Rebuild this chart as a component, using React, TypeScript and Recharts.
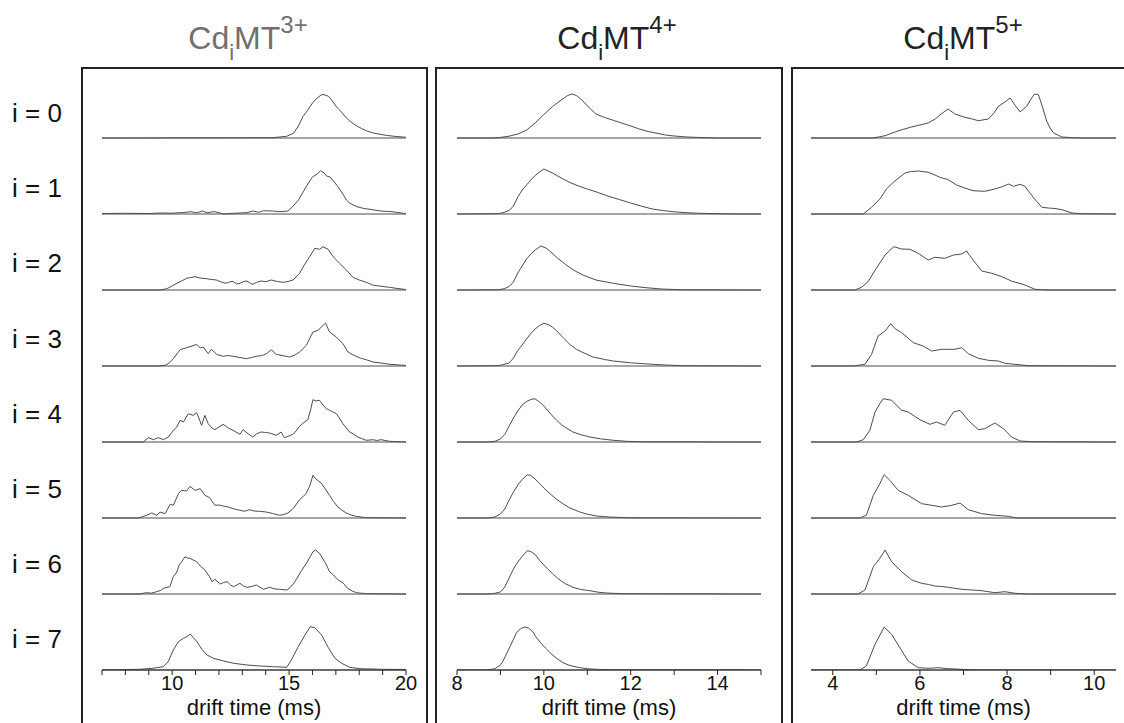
import React from 'react';
import { LineChart, Line, XAxis, YAxis, ReferenceLine } from 'recharts';

// ---------- data: drift time (ms) vs. relative intensity (a.u.) ----------
const ROW_GAP = 76; // vertical offset between stacked traces (a.u.)
const rowLabels = ['i = 0', 'i = 1', 'i = 2', 'i = 3', 'i = 4', 'i = 5', 'i = 6', 'i = 7'];

// Cd_iMT 3+
const cd3_i0 = [[7,0],[14.3,0.3],[14.9,1.7],[15.2,5],[15.4,12],[15.6,21.7],[15.8,28],[16.0,35],[16.2,40],[16.4,43.5],[16.55,43],[16.7,41.5],[16.85,37],[17.0,32],[17.2,27],[17.45,20],[17.7,15],[17.9,12],[18.1,9.5],[18.3,7.3],[18.6,5],[18.9,3.7],[19.2,2.5],[19.5,1.7],[20,0.7]];
const cd3_i1 = [[7,0.5],[8,0.7],[9,0.5],[9.5,1],[10,0.8],[10.5,1.5],[10.8,2.3],[11.05,1.3],[11.3,3],[11.5,1.2],[11.8,2.5],[12.2,0],[12.6,0.7],[13.2,1.3],[13.45,3],[13.7,1.7],[13.9,3.3],[14.3,3],[14.6,2.3],[14.95,3],[15.15,7.3],[15.4,14],[15.6,22],[15.8,30],[16.0,37],[16.2,40],[16.35,43.3],[16.5,41],[16.6,38],[16.75,37],[16.9,33],[17.1,27],[17.3,20],[17.45,14],[17.6,10.7],[17.9,7.3],[18.2,5.5],[18.45,4.7],[18.9,3],[19.4,2.3],[19.9,0.7],[20,0.5]];
const cd3_i2 = [[7,0],[9.5,0],[9.77,1.3],[10.0,4],[10.2,6.7],[10.4,9],[10.62,11.7],[10.8,12.5],[10.98,13.3],[11.2,12],[11.47,11.3],[11.7,10.5],[11.9,10],[12.1,8],[12.3,6.7],[12.45,8],[12.6,8.7],[12.75,6],[12.9,6.7],[13.05,8.5],[13.2,9],[13.35,6.5],[13.45,5.7],[13.6,7.5],[13.8,9],[14.0,8.3],[14.24,10],[14.5,8.5],[14.74,7.7],[14.95,8.5],[15.17,10],[15.45,16.7],[15.65,25],[15.88,33.3],[16.1,41.7],[16.3,40.7],[16.45,43.3],[16.67,40.7],[16.8,36],[16.95,31.7],[17.16,26.7],[17.45,20],[17.73,12.7],[18.0,10],[18.3,7.7],[18.57,5],[18.86,4],[19.1,3.2],[19.3,2.7],[19.57,1.7],[19.93,0.7],[20,0.5]];
const cd3_i3 = [[7,0],[9.4,0],[9.7,0.7],[9.9,3.5],[10.05,7.3],[10.2,12],[10.34,16.3],[10.5,17.5],[10.62,18.3],[10.85,20],[11.05,21.7],[11.2,18],[11.33,19],[11.54,12.3],[11.68,16.7],[11.9,11.7],[12.18,9.7],[12.4,10.5],[12.6,9.7],[12.9,8.5],[13.17,7.3],[13.4,8.5],[13.6,9.7],[13.85,10.5],[14.03,12.3],[14.24,16.3],[14.45,11.7],[14.7,10.5],[15.02,9],[15.25,11],[15.45,14],[15.74,20.7],[16.02,34],[16.24,35.7],[16.38,39],[16.56,43],[16.73,34],[16.9,31],[17.02,29],[17.3,22.3],[17.52,14],[17.7,11.5],[17.87,9.7],[18.1,7.5],[18.3,6.3],[18.58,4],[18.93,3],[19.3,1.7],[19.6,1.2],[19.93,0.7],[20,0.5]];
const cd3_i4 = [[7,0],[8.77,0],[8.99,4.3],[9.2,2.3],[9.4,4.3],[9.63,2.3],[9.84,5],[10.05,11.7],[10.2,15],[10.34,21.7],[10.48,20],[10.69,28.3],[10.9,26.7],[11.05,29.3],[11.26,16.7],[11.4,26.7],[11.54,18.3],[11.7,14],[11.83,12.3],[12.0,15],[12.18,17.7],[12.4,14],[12.6,11.7],[12.9,7.7],[13.03,12.3],[13.24,8.3],[13.45,5],[13.6,8],[13.8,10],[14.0,9.5],[14.17,9],[14.45,6.7],[14.66,10],[14.8,4.3],[15.0,6],[15.16,7.7],[15.3,11],[15.45,15.7],[15.6,19],[15.8,22.3],[15.92,32],[16.02,42.3],[16.15,41],[16.3,41.7],[16.45,37],[16.59,33.3],[16.8,31],[17.02,28.3],[17.15,24],[17.3,18.3],[17.45,14],[17.59,10],[17.75,8],[17.94,5],[18.1,3.5],[18.3,1.7],[18.58,2.3],[18.75,1.5],[18.93,2.3],[19.3,0.7],[19.93,0],[20,0]];
const cd3_i5 = [[7,0],[8.55,0],[8.91,2.7],[9.13,5],[9.34,2.7],[9.48,6],[9.7,4.3],[9.91,13.7],[10.05,12.7],[10.27,24.3],[10.4,27.7],[10.62,27],[10.76,31.7],[10.98,27.7],[11.2,29.3],[11.4,22.7],[11.6,20.3],[11.83,12.7],[12.0,13],[12.18,12],[12.4,11],[12.6,9.3],[12.85,8],[13.1,6.7],[13.3,8.3],[13.5,7],[13.73,6.7],[14.02,6],[14.3,4.5],[14.6,2.7],[14.78,3.5],[14.95,5],[15.17,9.3],[15.45,18.3],[15.73,24.3],[15.9,33],[16.02,42.7],[16.1,40],[16.19,38.3],[16.37,35],[16.55,29],[16.73,22.7],[16.9,16.5],[17.09,11],[17.25,8],[17.44,5],[17.65,3],[17.87,1.7],[18.3,0.3],[20,0]];
const cd3_i6 = [[7,0],[8.6,0],[8.9,1.3],[9.1,0.8],[9.33,2.3],[9.5,3.5],[9.62,5.7],[9.9,7.3],[10.05,17.3],[10.2,22],[10.3,29],[10.41,32.3],[10.55,37.3],[10.65,36],[10.76,35.7],[10.9,34],[11.05,32.3],[11.2,28],[11.4,24],[11.6,17.3],[11.7,12.3],[11.83,14.7],[12.06,10],[12.2,11.5],[12.35,12.3],[12.5,9],[12.63,7.3],[12.9,10.7],[13.05,8],[13.2,6.7],[13.4,7.5],[13.6,9],[13.9,4.7],[14.17,6.7],[14.4,5],[14.6,4.7],[14.9,4],[15.05,6.5],[15.2,10.7],[15.35,16],[15.5,22.3],[15.75,31],[16.02,42.3],[16.14,44],[16.3,40.7],[16.52,32.3],[16.6,29],[16.73,22.3],[16.9,19],[17.1,14],[17.3,11.3],[17.5,5.7],[17.7,3],[17.88,1.3],[18.3,0.3],[20,0]];
const cd3_i7 = [[7,0],[8.6,0.7],[9.18,1.7],[9.62,3.3],[9.83,8.3],[10.05,20],[10.27,28.3],[10.48,31.7],[10.63,33.3],[10.77,36],[10.89,32.7],[11.06,28.3],[11.27,20.7],[11.49,15],[11.77,11.7],[12.2,9],[12.63,6.7],[13.2,5],[13.77,4],[14.34,3.3],[14.9,2.7],[15.1,10],[15.39,23.3],[15.68,35],[15.9,43.3],[16.1,42.3],[16.39,35],[16.67,22.7],[16.96,11.7],[17.25,6.7],[17.6,2.7],[18.03,1.3],[19,0.7],[20,0.5]];

// Cd_iMT 4+
const cd4_i0 = [[8,0],[8.8,0],[9.0,0.6],[9.2,1.8],[9.4,4],[9.6,7.8],[9.8,15],[10.0,23.5],[10.2,31.5],[10.4,38],[10.55,42.5],[10.65,44],[10.75,42.5],[10.9,37],[11.05,30],[11.2,24],[11.4,20.5],[11.6,17.7],[11.8,14.8],[12.0,12],[12.2,9],[12.4,6.5],[12.6,4.8],[12.8,3],[13.0,2],[13.3,1],[13.6,0.5],[14.0,0],[15,0]];
const cd4_i1 = [[8,0],[8.9,0.3],[9.0,0.7],[9.1,1.8],[9.2,3.5],[9.3,8],[9.4,17],[9.5,24],[9.6,29],[9.7,34],[9.8,38.5],[9.9,42],[10.0,45],[10.2,41],[10.4,36],[10.6,31.5],[10.8,28],[11.0,25],[11.25,21.5],[11.5,17.5],[11.75,14.3],[12.0,11],[12.25,7.8],[12.5,5],[12.75,3.4],[13.0,2.2],[13.25,1.4],[13.5,0.8],[14,0.3],[14.5,0],[15,0]];
const cd4_i2 = [[8,0],[8.9,0.2],[9.0,0.5],[9.1,1.5],[9.2,3.5],[9.3,8],[9.4,17],[9.5,24],[9.6,31],[9.7,36],[9.8,40],[9.93,44],[10.05,42],[10.15,38.5],[10.3,32.5],[10.5,25.5],[10.7,19.5],[10.9,15],[11.2,10],[11.6,6.7],[12.0,4],[12.35,2.3],[12.7,1],[13.2,0.2],[15,0]];
const cd4_i3 = [[8,0],[8.9,0.3],[9.0,0.7],[9.2,3],[9.3,8],[9.4,15.5],[9.5,21],[9.6,27],[9.7,32.5],[9.8,37],[9.9,40.5],[10.0,42.7],[10.1,41.5],[10.2,38.8],[10.3,35],[10.45,28],[10.6,21.5],[10.75,16.7],[10.9,13.5],[11.13,9],[11.4,6.5],[11.6,5],[12.0,3.2],[12.4,2],[12.8,1],[13.2,0.3],[15,0]];
const cd4_i4 = [[8,0],[8.7,0],[8.87,0.7],[9.0,3],[9.1,7.5],[9.2,16],[9.3,24],[9.4,31],[9.5,37],[9.6,40.5],[9.7,42.5],[9.79,43.3],[9.9,40],[10.0,36],[10.1,31],[10.2,26],[10.3,21.5],[10.4,17.5],[10.5,14.5],[10.67,10],[10.85,7.3],[11.06,5],[11.3,3.2],[11.6,1.7],[11.9,0.7],[12.3,0.2],[15,0]];
const cd4_i5 = [[8,0],[8.7,0],[8.87,1],[9.0,4],[9.1,9],[9.2,18],[9.3,26],[9.4,33],[9.5,38.5],[9.62,43.3],[9.7,42.5],[9.8,39],[9.9,34.5],[10.0,30],[10.14,24.3],[10.3,18.5],[10.44,14.3],[10.6,10],[10.83,6],[11.0,3.8],[11.21,2],[11.5,1],[12,0.2],[15,0]];
const cd4_i6 = [[8,0],[8.7,0],[8.85,0.5],[9.0,2],[9.1,7],[9.2,16],[9.3,25],[9.4,32],[9.5,37.5],[9.62,43.3],[9.7,42.5],[9.8,39.5],[9.91,33.3],[10.0,29],[10.1,24.5],[10.2,20.5],[10.29,16.7],[10.4,13],[10.5,10.2],[10.67,6.7],[10.85,4.5],[11.06,3.3],[11.25,1.8],[11.44,1],[11.8,0.3],[15,0]];
const cd4_i7 = [[8,0],[8.7,0],[8.87,1.3],[9.0,5],[9.06,9],[9.15,17],[9.26,27],[9.37,37.3],[9.47,41.5],[9.56,43],[9.65,42],[9.75,38],[9.83,32.3],[9.95,26],[10.05,21.5],[10.14,17.3],[10.3,11.5],[10.44,7.3],[10.6,4.5],[10.83,2.3],[11.0,1.3],[11.21,0.7],[11.5,0.2],[15,0]];

// Cd_iMT 5+
const cd5_i0 = [[3.5,0],[4.89,0],[5.05,1],[5.2,2.3],[5.43,6],[5.6,8.5],[5.81,11],[6.0,13],[6.19,15],[6.35,19],[6.5,24.5],[6.65,29],[6.8,24],[7.03,20.7],[7.2,19],[7.34,17.3],[7.57,19],[7.7,25],[7.8,31.7],[7.95,36],[8.07,40],[8.18,33],[8.3,26],[8.45,31.7],[8.55,39],[8.63,44],[8.72,43.3],[8.82,30],[8.91,16.7],[9.0,9],[9.07,5],[9.26,1],[9.5,0.3],[9.72,0],[10.5,0]];
const cd5_i1 = [[3.5,0],[4.7,0],[4.89,6.7],[5.08,15],[5.23,25],[5.43,33.3],[5.66,41],[5.8,42.5],[5.96,43],[6.19,41.7],[6.32,39.5],[6.46,36.7],[6.65,34.3],[6.84,29],[7.03,26],[7.22,23.3],[7.49,22.7],[7.72,25],[7.9,27.5],[8.03,30],[8.15,27.7],[8.3,29.7],[8.41,27.7],[8.6,16.7],[8.8,6.7],[8.95,6],[9.1,5.5],[9.26,4.3],[9.49,1],[9.72,0.3],[10.5,0]];
const cd5_i2 = [[3.5,0],[4.51,0],[4.66,2.7],[4.81,8.3],[5.0,21.7],[5.2,35],[5.4,43.3],[5.58,41],[5.77,40.7],[5.96,36.7],[6.19,30],[6.34,32.7],[6.57,31.7],[6.77,35],[6.96,36],[7.07,39],[7.22,30],[7.42,19],[7.65,16.7],[7.88,13.3],[8.1,9],[8.41,5],[8.64,0.7],[8.95,0],[10.5,0]];
const cd5_i3 = [[3.5,0],[4.47,0],[4.74,1.7],[4.89,11.7],[5.04,30],[5.2,35],[5.33,42.3],[5.43,37.3],[5.58,33.3],[5.85,23.3],[6.07,20],[6.27,15],[6.5,16.7],[6.8,16.7],[6.96,18.3],[7.11,12.3],[7.34,7.7],[7.57,5.7],[7.8,5],[7.95,2.7],[8.18,1.7],[8.49,0.3],[10.5,0]];
const cd5_i4 = [[3.5,0],[4.54,0],[4.7,2.3],[4.85,11.7],[4.97,30],[5.08,38.3],[5.16,43.3],[5.35,41.7],[5.58,31.7],[5.73,30],[6.0,22.3],[6.23,17.7],[6.38,20],[6.57,16.7],[6.77,30],[6.92,31.7],[7.11,21.7],[7.34,12.3],[7.49,13.3],[7.72,19],[7.92,13.3],[8.1,5],[8.3,1],[8.57,0.3],[10.5,0]];
const cd5_i5 = [[3.5,0],[4.62,0],[4.77,2.7],[4.93,22.7],[5.08,34.3],[5.18,43.3],[5.31,37.7],[5.5,27.7],[5.73,22.7],[6.04,14.3],[6.27,12.7],[6.5,11],[6.73,12.7],[6.92,15],[7.11,8.3],[7.42,4.3],[7.72,2.7],[8.03,1.7],[8.22,0],[10.5,0]];
const cd5_i6 = [[3.5,0],[4.58,0],[4.74,4],[4.93,27.3],[5.08,35.7],[5.2,44],[5.35,32.3],[5.58,22.3],[5.81,14],[6.04,10.7],[6.2,9.5],[6.34,8],[6.5,7.5],[6.65,6.7],[6.96,4.7],[7.42,3.3],[7.72,1.3],[7.95,2.3],[8.18,0.7],[8.5,0],[10.5,0]];
const cd5_i7 = [[3.5,0],[4.62,0],[4.77,4],[4.97,25.7],[5.18,43],[5.35,35.7],[5.54,22.3],[5.73,9],[5.96,2.3],[6.19,1.7],[6.42,2.3],[6.65,1.3],[6.96,0.7],[7.3,0],[10.5,0]];

const cd3Rows = [cd3_i0, cd3_i1, cd3_i2, cd3_i3, cd3_i4, cd3_i5, cd3_i6, cd3_i7];
const cd4Rows = [cd4_i0, cd4_i1, cd4_i2, cd4_i3, cd4_i4, cd4_i5, cd4_i6, cd4_i7];
const cd5Rows = [cd5_i0, cd5_i1, cd5_i2, cd5_i3, cd5_i4, cd5_i5, cd5_i6, cd5_i7];

const cd3Ticks = [7, 8, 9, 10, 11, 12, 13, 14, 15, 16, 17, 18, 19, 20];
const cd3Labeled = [10, 15, 20];
const cd4Ticks = [8, 9, 10, 11, 12, 13, 14, 15];
const cd4Labeled = [8, 10, 12, 14];
const cd5Ticks = [4, 5, 6, 7, 8, 9, 10];
const cd5Labeled = [4, 6, 8, 10];

const titleSup = ['3+', '4+', '5+'];
const xLabel = 'drift time (ms)';

// ---------- rendering ----------
const FONT = '"Liberation Sans", Arial, Helvetica, sans-serif';
const TRACE = '#4d4d4d';

type PanelProps = {
  left: number;
  width: number;
  domain: [number, number];
  ticks: number[];
  labeled: number[];
  rows: number[][][];
};

function makeTick(labeled: number[]) {
  return (props: any) => {
    const { x, y, payload } = props;
    const v = payload.value;
    if (!labeled.includes(v)) return <g />;
    return (
      <text x={x} y={y + 13} textAnchor="middle" fontSize={20} fill="#111" fontFamily={FONT}>
        {String(v)}
      </text>
    );
  };
}

function Panel({ left, width, domain, ticks, labeled, rows }: PanelProps) {
  return (
    <div style={{ position: 'absolute', left, top: 70 }}>
      <LineChart width={width} height={650} margin={{ top: 0, right: 20, bottom: 0, left: 20 }}>
        <XAxis
          type="number"
          dataKey="x"
          domain={domain}
          ticks={ticks}
          interval={0}
          allowDataOverflow
          height={50}
          tickSize={5}
          tickLine={{ stroke: '#222' }}
          axisLine={{ stroke: '#333' }}
          tick={makeTick(labeled)}
          label={{ value: xLabel, position: 'insideBottom', offset: 5, fontSize: 22, fill: '#111' }}
        />
        <YAxis type="number" domain={[0, 600]} hide allowDataOverflow />
        {rows.map((_, i) => (
          <ReferenceLine key={'b' + i} y={(7 - i) * ROW_GAP} stroke={TRACE} strokeWidth={1} />
        ))}
        {rows.map((r, i) => (
          <Line
            key={'l' + i}
            data={r.map(([x, h]) => ({ x, y: (7 - i) * ROW_GAP + h }))}
            dataKey="y"
            type="linear"
            stroke={TRACE}
            strokeWidth={1}
            dot={false}
            activeDot={false}
            isAnimationActive={false}
          />
        ))}
      </LineChart>
    </div>
  );
}

function Title({ center, sup, color }: { center: number; sup: string; color: string }) {
  return (
    <div
      style={{
        position: 'absolute',
        left: center,
        top: 22,
        transform: 'translateX(-50%)',
        whiteSpace: 'nowrap',
        fontSize: 32,
        lineHeight: '32px',
        color,
      }}
    >
      Cd<span style={{ fontSize: 22, position: 'relative', top: 11 }}>i</span>MT
      <span style={{ fontSize: 24, position: 'relative', top: -16 }}>{sup}</span>
    </div>
  );
}

const boxStyle = (left: number, width: number): React.CSSProperties => ({
  position: 'absolute',
  left,
  top: 67,
  width,
  height: 700,
  border: '2px solid #222',
  boxSizing: 'border-box',
});

export default function App() {
  return (
    <div
      style={{
        position: 'absolute',
        left: 0,
        top: 0,
        width: 1124,
        height: 723,
        overflow: 'hidden',
        background: '#fff',
        fontFamily: FONT,
        color: '#111',
      }}
    >
      <div style={boxStyle(81, 347)} />
      <div style={boxStyle(435, 348)} />
      <div style={boxStyle(791, 400)} />

      <Title center={248} sup={titleSup[0]} color="#707070" />
      <Title center={617} sup={titleSup[1]} color="#222" />
      <Title center={963} sup={titleSup[2]} color="#222" />

      {rowLabels.map((t, i) => (
        <div
          key={t}
          style={{
            position: 'absolute',
            left: 12,
            top: 100 + 75.2 * i,
            fontSize: 26,
            lineHeight: '26px',
            whiteSpace: 'pre',
          }}
        >
          {t}
        </div>
      ))}

      <Panel left={82} width={344} domain={[7, 20]} ticks={cd3Ticks} labeled={cd3Labeled} rows={cd3Rows} />
      <Panel left={437} width={344} domain={[8, 15]} ticks={cd4Ticks} labeled={cd4Labeled} rows={cd4Rows} />
      <Panel left={791} width={345} domain={[3.5, 10.5]} ticks={cd5Ticks} labeled={cd5Labeled} rows={cd5Rows} />
    </div>
  );
}
